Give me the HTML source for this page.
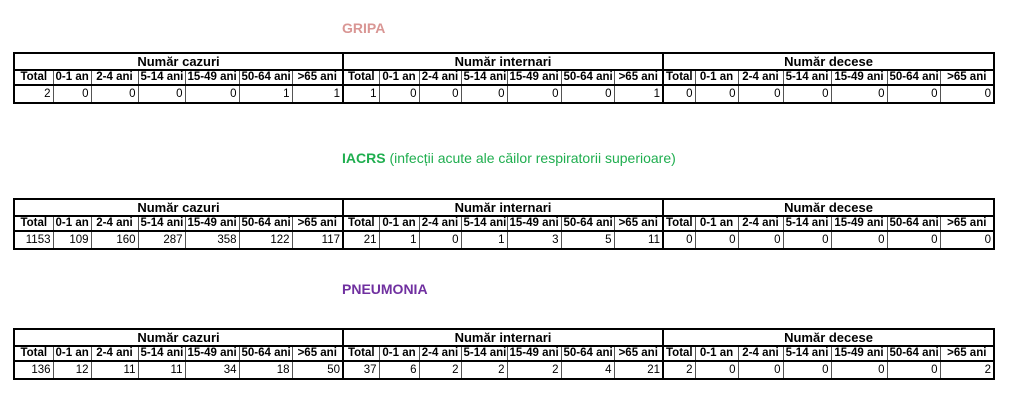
<!DOCTYPE html>
<html><head><meta charset="utf-8"><style>
body{margin:0;width:1024px;height:409px;background:#fff;position:relative;font-family:"Liberation Sans",Arial,sans-serif;overflow:hidden}
.t{position:absolute;left:13px;border-collapse:collapse;table-layout:fixed;width:981px;border:2px solid #000}
.t td{border:1px solid #555;padding:0 2px;font-size:11.5px;line-height:13px;white-space:nowrap;overflow:hidden;color:#000}
.t tr.h1 td{font-weight:bold;text-align:center;font-size:13px;height:15px;border-bottom:2px solid #000}
.t tr.h2 td{font-weight:bold;text-align:center;height:13px;border-bottom:2px solid #000}
.t tr.d td{text-align:right;height:16px}
.t .s{border-left:2px solid #000}
.ttl{position:absolute;font-weight:bold;font-size:14px}
</style></head><body>
<div class="ttl" style="left:342px;top:20px;color:#d99694">GRIPA</div>
<div class="ttl" style="left:342px;top:150px;color:#1fae4f">IACRS <span style="font-weight:normal">(infecții acute ale căilor respiratorii superioare)</span></div>
<div class="ttl" style="left:342px;top:281px;color:#7030a0">PNEUMONIA</div>

<table class="t" style="top:52px">
<colgroup><col style="width:39px"><col style="width:38px"><col style="width:47px"><col style="width:47px"><col style="width:54px"><col style="width:53px"><col style="width:51px"><col style="width:36px"><col style="width:40px"><col style="width:42px"><col style="width:46px"><col style="width:54px"><col style="width:53px"><col style="width:49px"><col style="width:32px"><col style="width:43px"><col style="width:45px"><col style="width:48px"><col style="width:56px"><col style="width:53px"><col style="width:54px"></colgroup>
<tr class="h1"><td colspan="7">Număr cazuri</td><td colspan="7" class="s">Număr internari</td><td colspan="7" class="s">Număr decese</td></tr>
<tr class="h2"><td>Total</td><td>0-1 an</td><td>2-4 ani</td><td>5-14 ani</td><td>15-49 ani</td><td>50-64 ani</td><td>&gt;65 ani</td><td class="s">Total</td><td>0-1 an</td><td>2-4 ani</td><td>5-14 ani</td><td>15-49 ani</td><td>50-64 ani</td><td>&gt;65 ani</td><td class="s">Total</td><td>0-1 an</td><td>2-4 ani</td><td>5-14 ani</td><td>15-49 ani</td><td>50-64 ani</td><td>&gt;65 ani</td></tr>
<tr class="d"><td>2</td><td>0</td><td>0</td><td>0</td><td>0</td><td>1</td><td>1</td><td class="s">1</td><td>0</td><td>0</td><td>0</td><td>0</td><td>0</td><td>1</td><td class="s">0</td><td>0</td><td>0</td><td>0</td><td>0</td><td>0</td><td>0</td></tr>
</table>

<table class="t" style="top:198px">
<colgroup><col style="width:39px"><col style="width:38px"><col style="width:47px"><col style="width:47px"><col style="width:54px"><col style="width:53px"><col style="width:51px"><col style="width:36px"><col style="width:40px"><col style="width:42px"><col style="width:46px"><col style="width:54px"><col style="width:53px"><col style="width:49px"><col style="width:32px"><col style="width:43px"><col style="width:45px"><col style="width:48px"><col style="width:56px"><col style="width:53px"><col style="width:54px"></colgroup>
<tr class="h1"><td colspan="7">Număr cazuri</td><td colspan="7" class="s">Număr internari</td><td colspan="7" class="s">Număr decese</td></tr>
<tr class="h2"><td>Total</td><td>0-1 an</td><td>2-4 ani</td><td>5-14 ani</td><td>15-49 ani</td><td>50-64 ani</td><td>&gt;65 ani</td><td class="s">Total</td><td>0-1 an</td><td>2-4 ani</td><td>5-14 ani</td><td>15-49 ani</td><td>50-64 ani</td><td>&gt;65 ani</td><td class="s">Total</td><td>0-1 an</td><td>2-4 ani</td><td>5-14 ani</td><td>15-49 ani</td><td>50-64 ani</td><td>&gt;65 ani</td></tr>
<tr class="d"><td>1153</td><td>109</td><td>160</td><td>287</td><td>358</td><td>122</td><td>117</td><td class="s">21</td><td>1</td><td>0</td><td>1</td><td>3</td><td>5</td><td>11</td><td class="s">0</td><td>0</td><td>0</td><td>0</td><td>0</td><td>0</td><td>0</td></tr>
</table>

<table class="t" style="top:328px">
<colgroup><col style="width:39px"><col style="width:38px"><col style="width:47px"><col style="width:47px"><col style="width:54px"><col style="width:53px"><col style="width:51px"><col style="width:36px"><col style="width:40px"><col style="width:42px"><col style="width:46px"><col style="width:54px"><col style="width:53px"><col style="width:49px"><col style="width:32px"><col style="width:43px"><col style="width:45px"><col style="width:48px"><col style="width:56px"><col style="width:53px"><col style="width:54px"></colgroup>
<tr class="h1"><td colspan="7">Număr cazuri</td><td colspan="7" class="s">Număr internari</td><td colspan="7" class="s">Număr decese</td></tr>
<tr class="h2"><td>Total</td><td>0-1 an</td><td>2-4 ani</td><td>5-14 ani</td><td>15-49 ani</td><td>50-64 ani</td><td>&gt;65 ani</td><td class="s">Total</td><td>0-1 an</td><td>2-4 ani</td><td>5-14 ani</td><td>15-49 ani</td><td>50-64 ani</td><td>&gt;65 ani</td><td class="s">Total</td><td>0-1 an</td><td>2-4 ani</td><td>5-14 ani</td><td>15-49 ani</td><td>50-64 ani</td><td>&gt;65 ani</td></tr>
<tr class="d"><td>136</td><td>12</td><td>11</td><td>11</td><td>34</td><td>18</td><td>50</td><td class="s">37</td><td>6</td><td>2</td><td>2</td><td>2</td><td>4</td><td>21</td><td class="s">2</td><td>0</td><td>0</td><td>0</td><td>0</td><td>0</td><td>2</td></tr>
</table>
</body></html>
